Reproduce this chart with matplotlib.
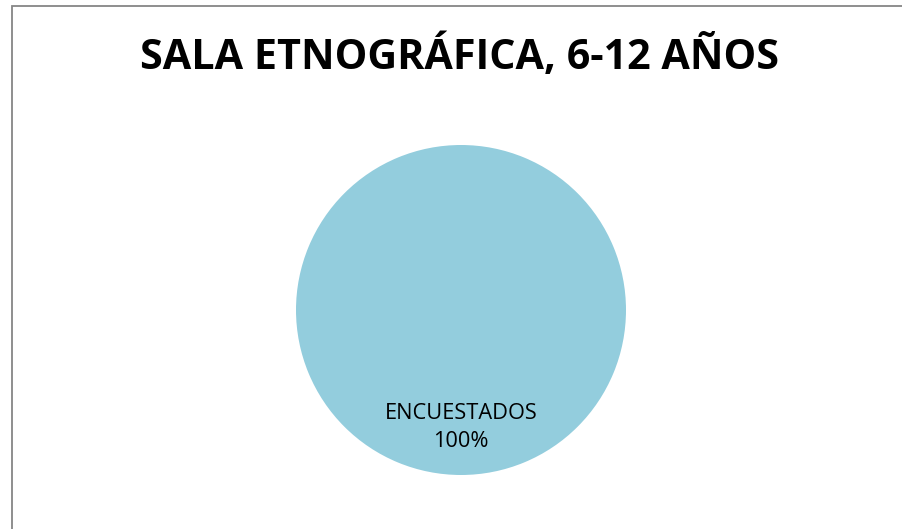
import matplotlib
matplotlib.use("Agg")
import matplotlib.pyplot as plt
from matplotlib.patches import Rectangle

title = "SALA ETNOGRÁFICA, 6-12 AÑOS"
categories = ["ENCUESTADOS"]
values = [100]
colors = ["#93CDDD"]

W, H = 903, 529
fig = plt.figure(figsize=(W / 100, H / 100), dpi=100)
fig.patch.set_facecolor("white")

# outer chart border (right/bottom edges cut off in reference)
fig.add_artist(Rectangle((12 / W, -0.05), 1.1, 1 - 6 / H + 0.05, transform=fig.transFigure,
                         fill=False, edgecolor="#868686", linewidth=1.3))

cx, cy, r = 461, 310, 165
ax = fig.add_axes([(cx - r) / W, (H - cy - r) / H, 2 * r / W, 2 * r / H])
total = sum(values)
labels = [f"{c}\n{v / total * 100:.0f}%" for c, v in zip(categories, values)]
wedges, texts = ax.pie(values, colors=colors, labels=labels, startangle=90,
                       labeldistance=0.71, radius=1,
                       wedgeprops=dict(linewidth=0),
                       textprops=dict(fontsize=15.7, family="Open Sans", color="#000000",
                                      linespacing=1.45))
for t in texts:
    t.set_ha("center")
    t.set_va("center")
ax.set_xlim(-1, 1)
ax.set_ylim(-1, 1)
ax.set_aspect("equal")
ax.axis("off")

fig.text(460 / W, 1 - 57 / H, title, ha="center", va="center",
         fontsize=29.7, fontweight="bold", family="Open Sans", color="#000000")

fig.savefig("out.png", dpi=100)
